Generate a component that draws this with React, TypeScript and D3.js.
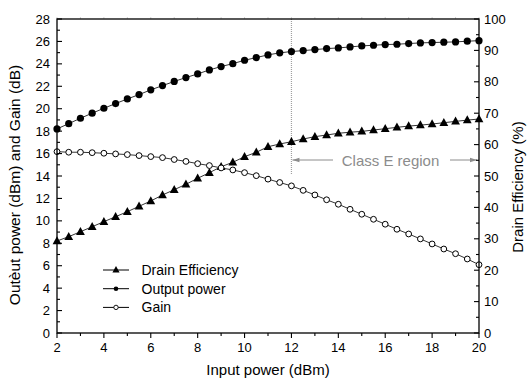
import React from "react";
import * as d3 from "d3";

const inputPower = [2, 2.5, 3, 3.5, 4, 4.5, 5, 5.5, 6, 6.5, 7, 7.5, 8, 8.5, 9, 9.5, 10, 10.5, 11, 11.5, 12, 12.5, 13, 13.5, 14, 14.5, 15, 15.5, 16, 16.5, 17, 17.5, 18, 18.5, 19, 19.5, 20];
const outputPower = [18.2, 18.67, 19.15, 19.6, 20.04, 20.46, 20.87, 21.26, 21.68, 22.06, 22.43, 22.78, 23.1, 23.46, 23.76, 24.02, 24.32, 24.56, 24.8, 24.98, 25.1, 25.18, 25.27, 25.36, 25.42, 25.51, 25.6, 25.66, 25.72, 25.75, 25.81, 25.87, 25.9, 25.93, 25.96, 26.02, 26.07];
const gain = [16.17, 16.12, 16.12, 16.08, 16.03, 15.97, 15.91, 15.82, 15.73, 15.64, 15.47, 15.3, 15.1, 14.93, 14.72, 14.54, 14.3, 14.03, 13.72, 13.42, 13.12, 12.72, 12.31, 11.88, 11.48, 11.03, 10.59, 10.14, 9.7, 9.25, 8.83, 8.39, 7.94, 7.49, 7.07, 6.6, 6.09];
const drainEff = [29.3, 30.67, 32.26, 33.85, 35.45, 37.04, 38.63, 40.35, 42.04, 43.95, 45.64, 47.36, 49.27, 51.05, 52.96, 54.36, 56.15, 57.55, 59.33, 60.19, 60.92, 61.78, 62.52, 63.06, 63.6, 63.95, 64.2, 64.65, 65.06, 65.5, 65.9, 66.2, 66.56, 66.97, 67.4, 67.8, 68.15];

const xTicks = [2, 4, 6, 8, 10, 12, 14, 16, 18, 20];
const yLeftTicks = [0, 2, 4, 6, 8, 10, 12, 14, 16, 18, 20, 22, 24, 26, 28];
const yRightTicks = [0, 10, 20, 30, 40, 50, 60, 70, 80, 90, 100];
const legendLabels = ["Drain Efficiency", "Output power", "Gain"];
const xTitle = "Input power (dBm)";
const yLeftTitle = "Outèut power (dBm) and Gain (dB)";
const yRightTitle = "Drain Efficiency (%)";
const regionLabel = "Class E region";
const regionStart = 12;

const W = 527, H = 379;
const L = 57, R = 479, T = 19, B = 333;
const FONT = "Arial, 'Liberation Sans', sans-serif";

export default function App() {
  const x = d3.scaleLinear().domain([2, 20]).range([L, R]);
  const yL = d3.scaleLinear().domain([0, 28]).range([B, T]);
  const yR = d3.scaleLinear().domain([0, 100]).range([B, T]);

  const lineOut = d3.line<number>().x((_, i) => x(inputPower[i])).y((d) => yL(d));
  const lineEff = d3.line<number>().x((_, i) => x(inputPower[i])).y((d) => yR(d));

  const tri = (cx: number, cy: number, s: number) =>
    `M${cx},${cy - s * 0.6}L${cx + s * 0.55},${cy + s * 0.4}L${cx - s * 0.55},${cy + s * 0.4}Z`;

  const xMinor = d3.range(2, 21, 1);
  const yLMinor = d3.range(1, 28, 2);
  const yRMinor = d3.range(5, 100, 10);
  const rx = x(regionStart);
  const arrowY = 160;

  return (
    <svg width={W} height={H} style={{ position: "absolute", left: 0, top: 0, background: "#fff" }} fontFamily={FONT}>
      <rect x={0} y={0} width={W} height={H} fill="#fff" />
      {/* top faint ticks */}
      {xMinor.map((v) => (
        <line key={"tt" + v} x1={x(v)} x2={x(v)} y1={T - 2} y2={T} stroke="#c8c8c8" strokeWidth={0.8} />
      ))}
      {/* region marker */}
      <line x1={rx} x2={rx} y1={T} y2={175} stroke="#a0a0a0" strokeWidth={1.2} strokeDasharray="1,1" />
      <line x1={rx + 1} x2={333} y1={arrowY} y2={arrowY} stroke="#8c8c8c" strokeWidth={1} />
      <path d={`M${rx + 1},${arrowY}L${rx + 8},${arrowY - 2.2}L${rx + 8},${arrowY + 2.2}Z`} fill="#8c8c8c" />
      <line x1={450} x2={R - 2} y1={arrowY} y2={arrowY} stroke="#8c8c8c" strokeWidth={1} />
      <path d={`M${R - 2},${arrowY}L${R - 9},${arrowY - 2.2}L${R - 9},${arrowY + 2.2}Z`} fill="#8c8c8c" />
      <text x={390.5} y={165.5} fontSize={15} fill="#8c8c8c" textAnchor="middle">{regionLabel}</text>

      {/* series lines */}
      <path d={lineOut(outputPower) || ""} fill="none" stroke="#000" strokeWidth={0.8} />
      <path d={lineOut(gain) || ""} fill="none" stroke="#000" strokeWidth={0.8} />
      <path d={lineEff(drainEff) || ""} fill="none" stroke="#000" strokeWidth={0.8} />
      {drainEff.map((v, i) => (
        <path key={"e" + i} d={tri(x(inputPower[i]), yR(v), 8)} fill="#000" />
      ))}
      {outputPower.map((v, i) => (
        <circle key={"o" + i} cx={x(inputPower[i])} cy={yL(v)} r={3.6} fill="#000" />
      ))}
      {gain.map((v, i) => (
        <circle key={"g" + i} cx={x(inputPower[i])} cy={yL(v)} r={2.9} fill="#fff" stroke="#000" strokeWidth={1} />
      ))}

      {/* frame */}
      <rect x={L} y={T} width={R - L} height={B - T} fill="none" stroke="#000" strokeWidth={1.3} />

      {/* bottom axis ticks */}
      {xMinor.map((v) => (
        <line key={"xt" + v} x1={x(v)} x2={x(v)} y1={B} y2={B + (v % 2 === 0 ? 5 : 3)} stroke="#000" strokeWidth={1.1} />
      ))}
      {xTicks.map((v) => (
        <text key={"xl" + v} x={x(v)} y={351.5} fontSize={13} textAnchor="middle">{v}</text>
      ))}
      {/* left axis ticks */}
      {yLeftTicks.map((v) => (
        <line key={"ylt" + v} x1={L} x2={L + 5} y1={yL(v)} y2={yL(v)} stroke="#000" strokeWidth={1.1} />
      ))}
      {yLMinor.map((v) => (
        <line key={"ylm" + v} x1={L} x2={L + 3} y1={yL(v)} y2={yL(v)} stroke="#000" strokeWidth={1.1} />
      ))}
      {yLeftTicks.map((v) => (
        <text key={"yll" + v} x={50} y={yL(v) + 4.6} fontSize={13} textAnchor="end">{v}</text>
      ))}
      {/* right axis ticks */}
      {yRightTicks.map((v) => (
        <line key={"yrt" + v} x1={R - 5} x2={R} y1={yR(v)} y2={yR(v)} stroke="#000" strokeWidth={1.1} />
      ))}
      {yRMinor.map((v) => (
        <line key={"yrm" + v} x1={R - 3} x2={R} y1={yR(v)} y2={yR(v)} stroke="#000" strokeWidth={1.1} />
      ))}
      {yRightTicks.map((v) => (
        <text key={"yrl" + v} x={484} y={yR(v) + 4.6} fontSize={13} textAnchor="start">{v}</text>
      ))}

      {/* titles */}
      <text x={268} y={375} fontSize={15} textAnchor="middle">{xTitle}</text>
      <text transform={`translate(20,185) rotate(-90)`} fontSize={15.5} textAnchor="middle">{yLeftTitle}</text>
      <text transform={`translate(523,187) rotate(-90)`} fontSize={15} textAnchor="middle">{yRightTitle}</text>

      {/* legend */}
      {legendLabels.map((lab, i) => {
        const cy = 270 + i * 18.7;
        return (
          <g key={"lg" + i}>
            <line x1={103} x2={129} y1={cy} y2={cy} stroke="#000" strokeWidth={1} />
            {i === 0 && <path d={tri(116, cy, 6.5)} fill="#000" />}
            {i === 1 && <circle cx={116} cy={cy} r={2.3} fill="#000" />}
            {i === 2 && <circle cx={116} cy={cy} r={2.2} fill="#fff" stroke="#000" strokeWidth={0.9} />}
            <text x={141.5} y={cy + 5} fontSize={14} fill="#000">{lab}</text>
          </g>
        );
      })}
    </svg>
  );
}
